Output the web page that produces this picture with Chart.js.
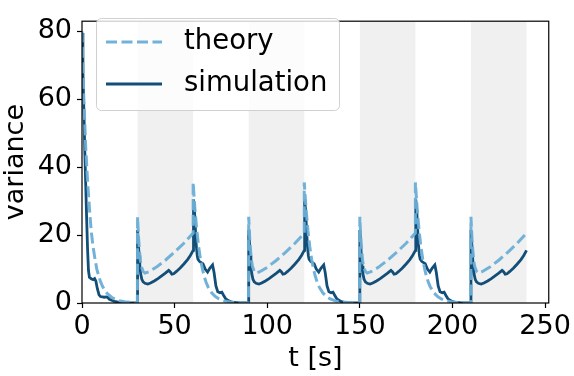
<!DOCTYPE html>
<html>
<head>
<meta charset="utf-8">
<script src="https://cdn.jsdelivr.net/npm/chart.js@4.4.1/dist/chart.umd.min.js"></script>
<style>
  html, body { margin: 0; padding: 0; background: #fff; }
  #wrap { width: 574px; height: 376px; }
</style>
</head>
<body>
<div id="wrap"><canvas id="chart" width="574" height="376"></canvas></div>
<script>
// ---- data ----
const theoryT = [
  0, 1, 2, 3, 4, 5, 6, 7, 8, 9, 10, 11, 12, 13, 14, 16, 18, 20, 23, 26, 29.9,
  30, 30.5, 31, 31.5, 32, 33, 34, 36, 40, 45, 50, 55, 60,
  60, 61, 62, 63, 64, 65, 66, 67, 68, 70, 72, 74, 77, 80, 85, 89.9,
  90, 90.5, 91, 91.5, 92, 93, 94, 96, 100, 105, 110, 115, 120,
  120, 121, 122, 123, 124, 125, 126, 127, 128, 130, 132, 134, 137, 140, 145, 149.9,
  150, 150.5, 151, 151.5, 152, 153, 154, 156, 160, 165, 170, 175, 180,
  180, 181, 182, 183, 184, 185, 186, 187, 188, 190, 192, 194, 197, 200, 205, 209.9,
  210, 210.5, 211, 211.5, 212, 213, 214, 216, 220, 225, 230, 235, 240
];
const theoryV = [
  80, 60, 46, 36, 28, 21, 16.5, 13, 10, 8, 6.3, 5, 4, 3.2, 2.6, 1.7, 1.1, 0.7, 0.35, 0.2, 0.1,
  25.4, 19.5, 15.5, 12.6, 10.8, 9.3, 8.8, 9.2, 10.5, 12.6, 15, 17.6, 20.6,
  35.5, 27.5, 21.3, 16.5, 12.8, 10, 7.8, 6.1, 4.8, 3.0, 1.9, 1.2, 0.6, 0.3, 0.1, 0.05,
  25.4, 19.5, 15.5, 12.6, 10.8, 9.3, 8.8, 9.2, 10.5, 12.6, 15, 17.6, 20.6,
  35.5, 27.5, 21.3, 16.5, 12.8, 10, 7.8, 6.1, 4.8, 3.0, 1.9, 1.2, 0.6, 0.3, 0.1, 0.05,
  25.4, 19.5, 15.5, 12.6, 10.8, 9.3, 8.8, 9.2, 10.5, 12.6, 15, 17.6, 20.6,
  35.5, 27.5, 21.3, 16.5, 12.8, 10, 7.8, 6.1, 4.8, 3.0, 1.9, 1.2, 0.6, 0.3, 0.1, 0.05,
  25.4, 19.5, 15.5, 12.6, 10.8, 9.3, 8.8, 9.2, 10.5, 12.6, 15, 17.6, 20.6
];

const simT = [
  0, 0.5, 1, 1.5, 2, 2.5, 3, 3.5, 4, 5, 6, 6.8, 7.5, 8.3, 9.2, 10, 11, 12, 13, 13.8, 14.8, 16, 17.5, 19, 21, 25, 29.9,
  30, 30.4, 30.8, 31.2, 31.7, 32.3, 33, 34, 35.5, 37, 39, 41, 43, 45, 46.8, 47.6, 48.5, 49.5, 51, 53, 55, 57, 58.5, 59.5, 60,
  60.2, 60.7, 61.2, 61.7, 62.2, 62.6, 63.5, 65.3, 66.5, 67.8, 69, 70.5, 71.3, 72.3, 73.3, 74.5, 75.5, 76.5, 77.5, 78.7, 80, 82, 85, 89.9,
  90, 90.4, 90.8, 91.2, 91.7, 92.3, 93, 94, 95.5, 97, 99, 101, 103, 105, 106.8, 107.6, 108.5, 109.5, 111, 113, 115, 117, 118.5, 119.5, 120,
  120.2, 120.7, 121.2, 121.7, 122.2, 122.6, 123.5, 125.3, 126.5, 127.8, 129, 130.5, 131.3, 132.3, 133.3, 134.5, 135.5, 136.5, 137.5, 138.7, 140, 142, 145, 149.9,
  150, 150.4, 150.8, 151.2, 151.7, 152.3, 153, 154, 155.5, 157, 159, 161, 163, 165, 166.8, 167.6, 168.5, 169.5, 171, 173, 175, 177, 178.5, 179.5, 180,
  180.2, 180.7, 181.2, 181.7, 182.2, 182.6, 183.5, 185.3, 186.5, 187.8, 189, 190.5, 191.3, 192.3, 193.3, 194.5, 195.5, 196.5, 197.5, 198.7, 200, 202, 205, 209.9,
  210, 210.4, 210.8, 211.2, 211.7, 212.3, 213, 214, 215.5, 217, 219, 221, 223, 225, 226.8, 227.6, 228.5, 229.5, 231, 233, 235, 237, 238.5, 239.5, 240
];
const simV = [
  79.5, 68, 57, 45, 35, 25, 16, 9.5, 7.6, 7.1, 6.9, 7.2, 6.4, 4.2, 2.4, 1.9, 1.8, 1.7, 1.8, 1.7, 1.1, 0.8, 0.5, 0.3, 0.15, 0.05, 0,
  21.5, 18, 14, 11, 8.5, 7, 6.2, 5.8, 5.6, 5.9, 6.5, 7.2, 8, 8.8, 9.6, 9.2, 8.5, 8.6, 9.3, 10.3, 11.5, 12.8, 14, 15, 15.5,
  30.5, 27.5, 22, 17, 14, 12.9, 12.2, 11.6, 10, 9.1, 10.2, 11.2, 9, 5, 3.3, 3.0, 3.2, 2.2, 1.3, 0.8, 0.4, 0.15, 0.05, 0,
  21.5, 18, 14, 11, 8.5, 7, 6.2, 5.8, 5.6, 5.9, 6.5, 7.2, 8, 8.8, 9.6, 9.2, 8.5, 8.6, 9.3, 10.3, 11.5, 12.8, 14, 15, 15.5,
  30.5, 27.5, 22, 17, 14, 12.9, 12.2, 11.6, 10, 9.1, 10.2, 11.2, 9, 5, 3.3, 3.0, 3.2, 2.2, 1.3, 0.8, 0.4, 0.15, 0.05, 0,
  21.5, 18, 14, 11, 8.5, 7, 6.2, 5.8, 5.6, 5.9, 6.5, 7.2, 8, 8.8, 9.6, 9.2, 8.5, 8.6, 9.3, 10.3, 11.5, 12.8, 14, 15, 15.5,
  30.5, 27.5, 22, 17, 14, 12.9, 12.2, 11.6, 10, 9.1, 10.2, 11.2, 9, 5, 3.3, 3.0, 3.2, 2.2, 1.3, 0.8, 0.4, 0.15, 0.05, 0,
  21.5, 18, 14, 11, 8.5, 7, 6.2, 5.8, 5.6, 5.9, 6.5, 7.2, 8, 8.8, 9.6, 9.2, 8.5, 8.6, 9.3, 10.3, 11.5, 12.8, 14, 15, 15.5
];

// shaded intervals (s)
const bandStart = [30, 90, 150, 210];
const bandEnd   = [60, 120, 180, 240];

const xTicks = [0, 50, 100, 150, 200, 250];
const yTicks = [0, 20, 40, 60, 80];

const seriesNames = ['theory', 'simulation'];

// ---- styling ----
const FONT = 'DejaVu Sans';
const FS = 27;
const LEGEND_FS = 27.5;
const THEORY_COLOR = 'rgba(107,174,214,0.95)';
const SIM_COLOR = '#124e78';

const toPoints = (xs, ys) => xs.map((x, i) => ({ x: x, y: ys[i] }));

// grey bands behind the lines
const bandsPlugin = {
  id: 'bands',
  beforeDatasetsDraw(chart) {
    const { ctx, chartArea: a, scales: { x } } = chart;
    ctx.save();
    ctx.fillStyle = '#f0f0f0';
    bandStart.forEach((s, i) => {
      const x1 = x.getPixelForValue(s);
      const x2 = x.getPixelForValue(bandEnd[i]);
      ctx.fillRect(x1, a.top, x2 - x1, a.bottom - a.top);
    });
    ctx.restore();
  }
};

// axes box + matplotlib-like legend
const framePlugin = {
  id: 'frame',
  afterDraw(chart) {
    const { ctx, chartArea: a } = chart;
    ctx.save();
    ctx.strokeStyle = '#000';
    ctx.lineWidth = 1.2;
    ctx.strokeRect(a.left, a.top, a.right - a.left, a.bottom - a.top);

    // legend box
    const bx = 96, by = 18, bw = 243, bh = 92, r = 5;
    ctx.beginPath();
    ctx.roundRect(bx + 0.5, by + 0.5, bw, bh, r);
    ctx.fillStyle = 'rgba(255,255,255,0.8)';
    ctx.fill();
    ctx.strokeStyle = '#d0d0d0';
    ctx.lineWidth = 1;
    ctx.stroke();

    const rows = [42, 84];
    const ds = chart.data.datasets;
    rows.forEach((y, i) => {
      ctx.beginPath();
      ctx.strokeStyle = ds[i].borderColor;
      ctx.lineWidth = ds[i].borderWidth;
      ctx.setLineDash(ds[i].borderDash || []);
      ctx.moveTo(106, y);
      ctx.lineTo(162, y);
      ctx.stroke();
      ctx.setLineDash([]);
      ctx.fillStyle = '#000';
      ctx.font = LEGEND_FS + 'px "' + FONT + '"';
      ctx.textBaseline = 'middle';
      ctx.textAlign = 'left';
      ctx.fillText(seriesNames[i], 184, y);
    });
    ctx.restore();
  }
};

new Chart(document.getElementById('chart'), {
  type: 'line',
  data: {
    datasets: [
      {
        label: seriesNames[0],
        data: toPoints(theoryT, theoryV),
        borderColor: THEORY_COLOR,
        borderWidth: 3,
        borderDash: [11, 4.5],
        pointRadius: 0,
        tension: 0
      },
      {
        label: seriesNames[1],
        data: toPoints(simT, simV),
        borderColor: SIM_COLOR,
        borderWidth: 2.8,
        pointRadius: 0,
        tension: 0
      }
    ]
  },
  options: {
    responsive: false,
    animation: false,
    devicePixelRatio: 1,
    layout: { padding: { top: 4, right: 24, left: 0, bottom: 0 } },
    plugins: {
      legend: { display: false },
      tooltip: { enabled: false }
    },
    scales: {
      x: {
        type: 'linear',
        min: 0,
        max: 252,
        afterBuildTicks: s => { s.ticks = xTicks.map(v => ({ value: v })); },
        afterFit: s => { s.height = 73; },
        border: { display: false },
        grid: { drawOnChartArea: false, drawTicks: true, tickLength: 5, tickColor: '#000', tickWidth: 1.2 },
        ticks: { color: '#000', font: { family: FONT, size: FS }, padding: 3, maxRotation: 0, autoSkip: false },
        title: { display: true, text: 't [s]', color: '#000', font: { family: FONT, size: FS }, padding: { top: 0, bottom: 1 } }
      },
      y: {
        type: 'linear',
        min: 0,
        max: 83,
        afterBuildTicks: s => { s.ticks = yTicks.map(v => ({ value: v })); },
        afterFit: s => { s.width = 82; },
        border: { display: false },
        grid: { drawOnChartArea: false, drawTicks: true, tickLength: 5, tickColor: '#000', tickWidth: 1.2 },
        ticks: { color: '#000', font: { family: FONT, size: FS }, padding: 5 },
        title: { display: true, text: 'variance', color: '#000', font: { family: FONT, size: FS }, padding: { top: 0, bottom: 0 } }
      }
    }
  },
  plugins: [bandsPlugin, framePlugin]
});
</script>
</body>
</html>
